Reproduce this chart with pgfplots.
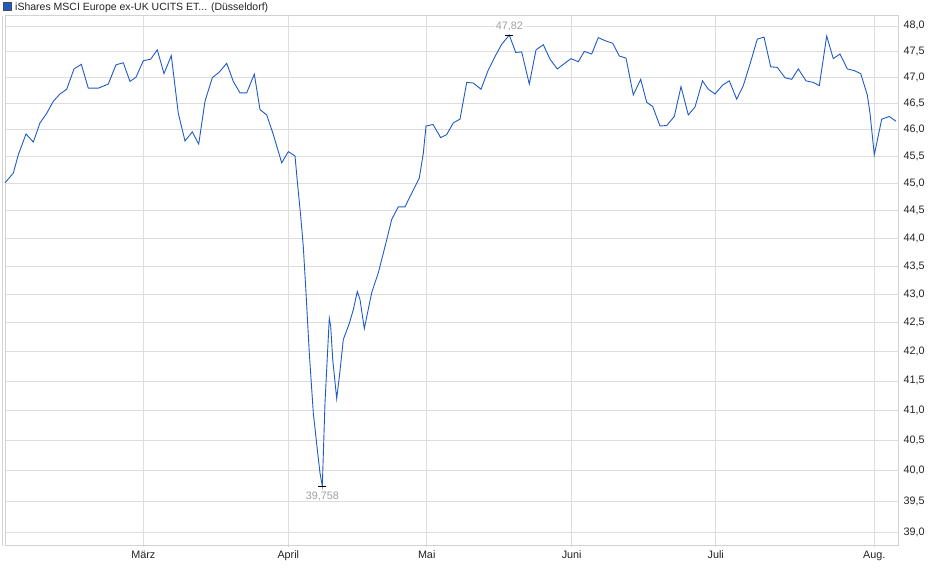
\documentclass[border=0pt]{standalone}
\usepackage{fontspec}
\setmainfont{Liberation Sans}
\usepackage{pgfplots}
\pgfplotsset{compat=1.18}

\definecolor{linieblau}{HTML}{1F5BC6}
\definecolor{gitter}{HTML}{DDDDDD}
\definecolor{rahmen}{HTML}{D2D2D2}
\definecolor{markgrau}{HTML}{A0A0A0}
\definecolor{schrift}{HTML}{222222}
\newcommand\chartfont{\fontsize{10.8}{12}\selectfont}
\newcommand\titelfont{\fontsize{10.5}{12}\selectfont}

\begin{document}
\begin{tikzpicture}[x=1pt,y=1pt]
\useasboundingbox (0,0) rectangle (940,579);

% Titel / Legende
\draw[fill=linieblau, draw=black!70, line width=0.6pt] (3.6,568.8) rectangle (10.9,576.2);
\node[anchor=base west, inner sep=0pt, text=schrift, font=\titelfont] at (15,568.7)
  {iShares MSCI Europe ex-UK UCITS ET... (Düsseldorf)};

% zweite Randlinie links
\draw[rahmen, line width=0.8pt] (2.7,33.3) -- (2.7,563);

\begin{axis}[%
at={(5pt,33.3pt)}, anchor=south west,%
width=893pt, height=529.7pt, scale only axis,%
xmin=5, xmax=898,%
ymode=log, ymin=38.80, ymax=48.197,%
axis line style={rahmen, line width=0.8pt},%
grid=major, grid style={gitter, line width=0.8pt},%
xtick={143.3,288.3,426.7,571.7,715.7,874.3},%
xticklabels={März,April,Mai,Juni,Juli,Aug.},%
ytick={39,39.5,40,40.5,41,41.5,42,42.5,43,43.5,44,44.5,45,45.5,46,46.5,47,47.5,48},%
yticklabels={{39,0},{39,5},{40,0},{40,5},{41,0},{41,5},{42,0},{42,5},{43,0},{43,5},{44,0},{44,5},{45,0},{45,5},{46,0},{46,5},{47,0},{47,5},{48,0}},%
xtick pos=bottom, ytick pos=right,%
tick align=outside,%
major tick length=1.5pt,%
xtick style={draw=gitter, line width=0.8pt},%
ytick style={draw=none},%
every tick label/.append style={font=\chartfont, text=schrift},%
yticklabel style={anchor=west, inner sep=0pt, xshift=4pt},%
xticklabel style={anchor=north, inner sep=0pt, yshift=-3.4pt},%
clip=false]%

\addplot[linieblau, line width=0.9pt] table {
x y
5 45.01
13.3 45.19
18.3 45.53
26 45.92
33.3 45.77
40 46.13
46.7 46.31
53.3 46.54
60 46.68
66.7 46.77
74 47.16
81.3 47.25
88.3 46.79
98.3 46.79
108.3 46.87
116 47.24
123.3 47.28
130 46.92
136 47.00
143.3 47.32
150.7 47.35
157.3 47.53
164 47.07
171.3 47.42
178.3 46.31
185 45.79
192.3 45.96
198.7 45.73
205 46.54
212.3 46.99
219.3 47.10
226.7 47.27
233.3 46.92
240 46.70
246.7 46.70
254.3 47.06
260 46.38
266.7 46.28
273.3 45.91
281.7 45.38
288.3 45.59
295 45.51
297.3 45.04
300.7 44.40
303.3 43.85
306 43.03
309.3 41.98
313.3 40.96
317.3 40.35
320 39.97
322.3 39.758
325 41.13
327.7 42.04
329.3 42.58
330.7 42.44
332.7 41.87
336.7 41.20
340 41.67
343.3 42.21
349.3 42.49
353.3 42.73
357.3 43.05
360 42.91
364.3 42.40
371.7 43.03
378.3 43.38
386.7 43.97
391.7 44.34
398.3 44.57
405 44.57
411.7 44.82
419.3 45.10
423.3 45.56
426 46.07
433 46.10
440.7 45.85
446.7 45.91
453.3 46.13
460 46.20
466.7 46.90
473.3 46.89
481 46.77
488.3 47.14
495 47.40
501.7 47.64
509.3 47.82
515.7 47.48
521.7 47.49
529.3 46.87
536 47.53
543.3 47.63
550 47.35
557.3 47.16
564 47.26
571 47.36
578.3 47.30
584.3 47.50
591.7 47.45
598.3 47.77
605 47.71
612.7 47.66
619.3 47.41
626 47.37
633.3 46.66
640.7 46.96
646.7 46.52
652.7 46.44
660 46.07
666.7 46.08
674.3 46.25
681 46.82
688.3 46.28
695 46.43
702.5 46.93
708.3 46.77
715 46.68
722.7 46.85
729.3 46.93
736.7 46.58
743.3 46.84
750.7 47.30
757.3 47.74
764 47.78
770.7 47.20
777.3 47.19
785 46.99
791.7 46.96
798.3 47.16
806 46.93
813.3 46.90
819.3 46.84
826.7 47.80
833.3 47.36
840 47.45
847.3 47.16
854 47.13
860.7 47.07
867.3 46.66
870 46.31
874.3 45.53
881.7 46.20
889.3 46.25
896 46.16
};

% Hoch- und Tiefpunkt
\addplot[only marks, mark=-, mark size=4pt, mark options={black, line width=0.9pt}]
  coordinates {(509.3,47.82) (322.3,39.758)};
\node[text=markgrau, font=\chartfont, fill=white, inner sep=1pt] at (axis cs:509.3,47.82) [yshift=9pt] {47,82};
\node[text=markgrau, font=\chartfont, fill=white, inner sep=1pt] at (axis cs:322.3,39.758) [yshift=-10pt] {39,758};

\end{axis}
\end{tikzpicture}
\end{document}
